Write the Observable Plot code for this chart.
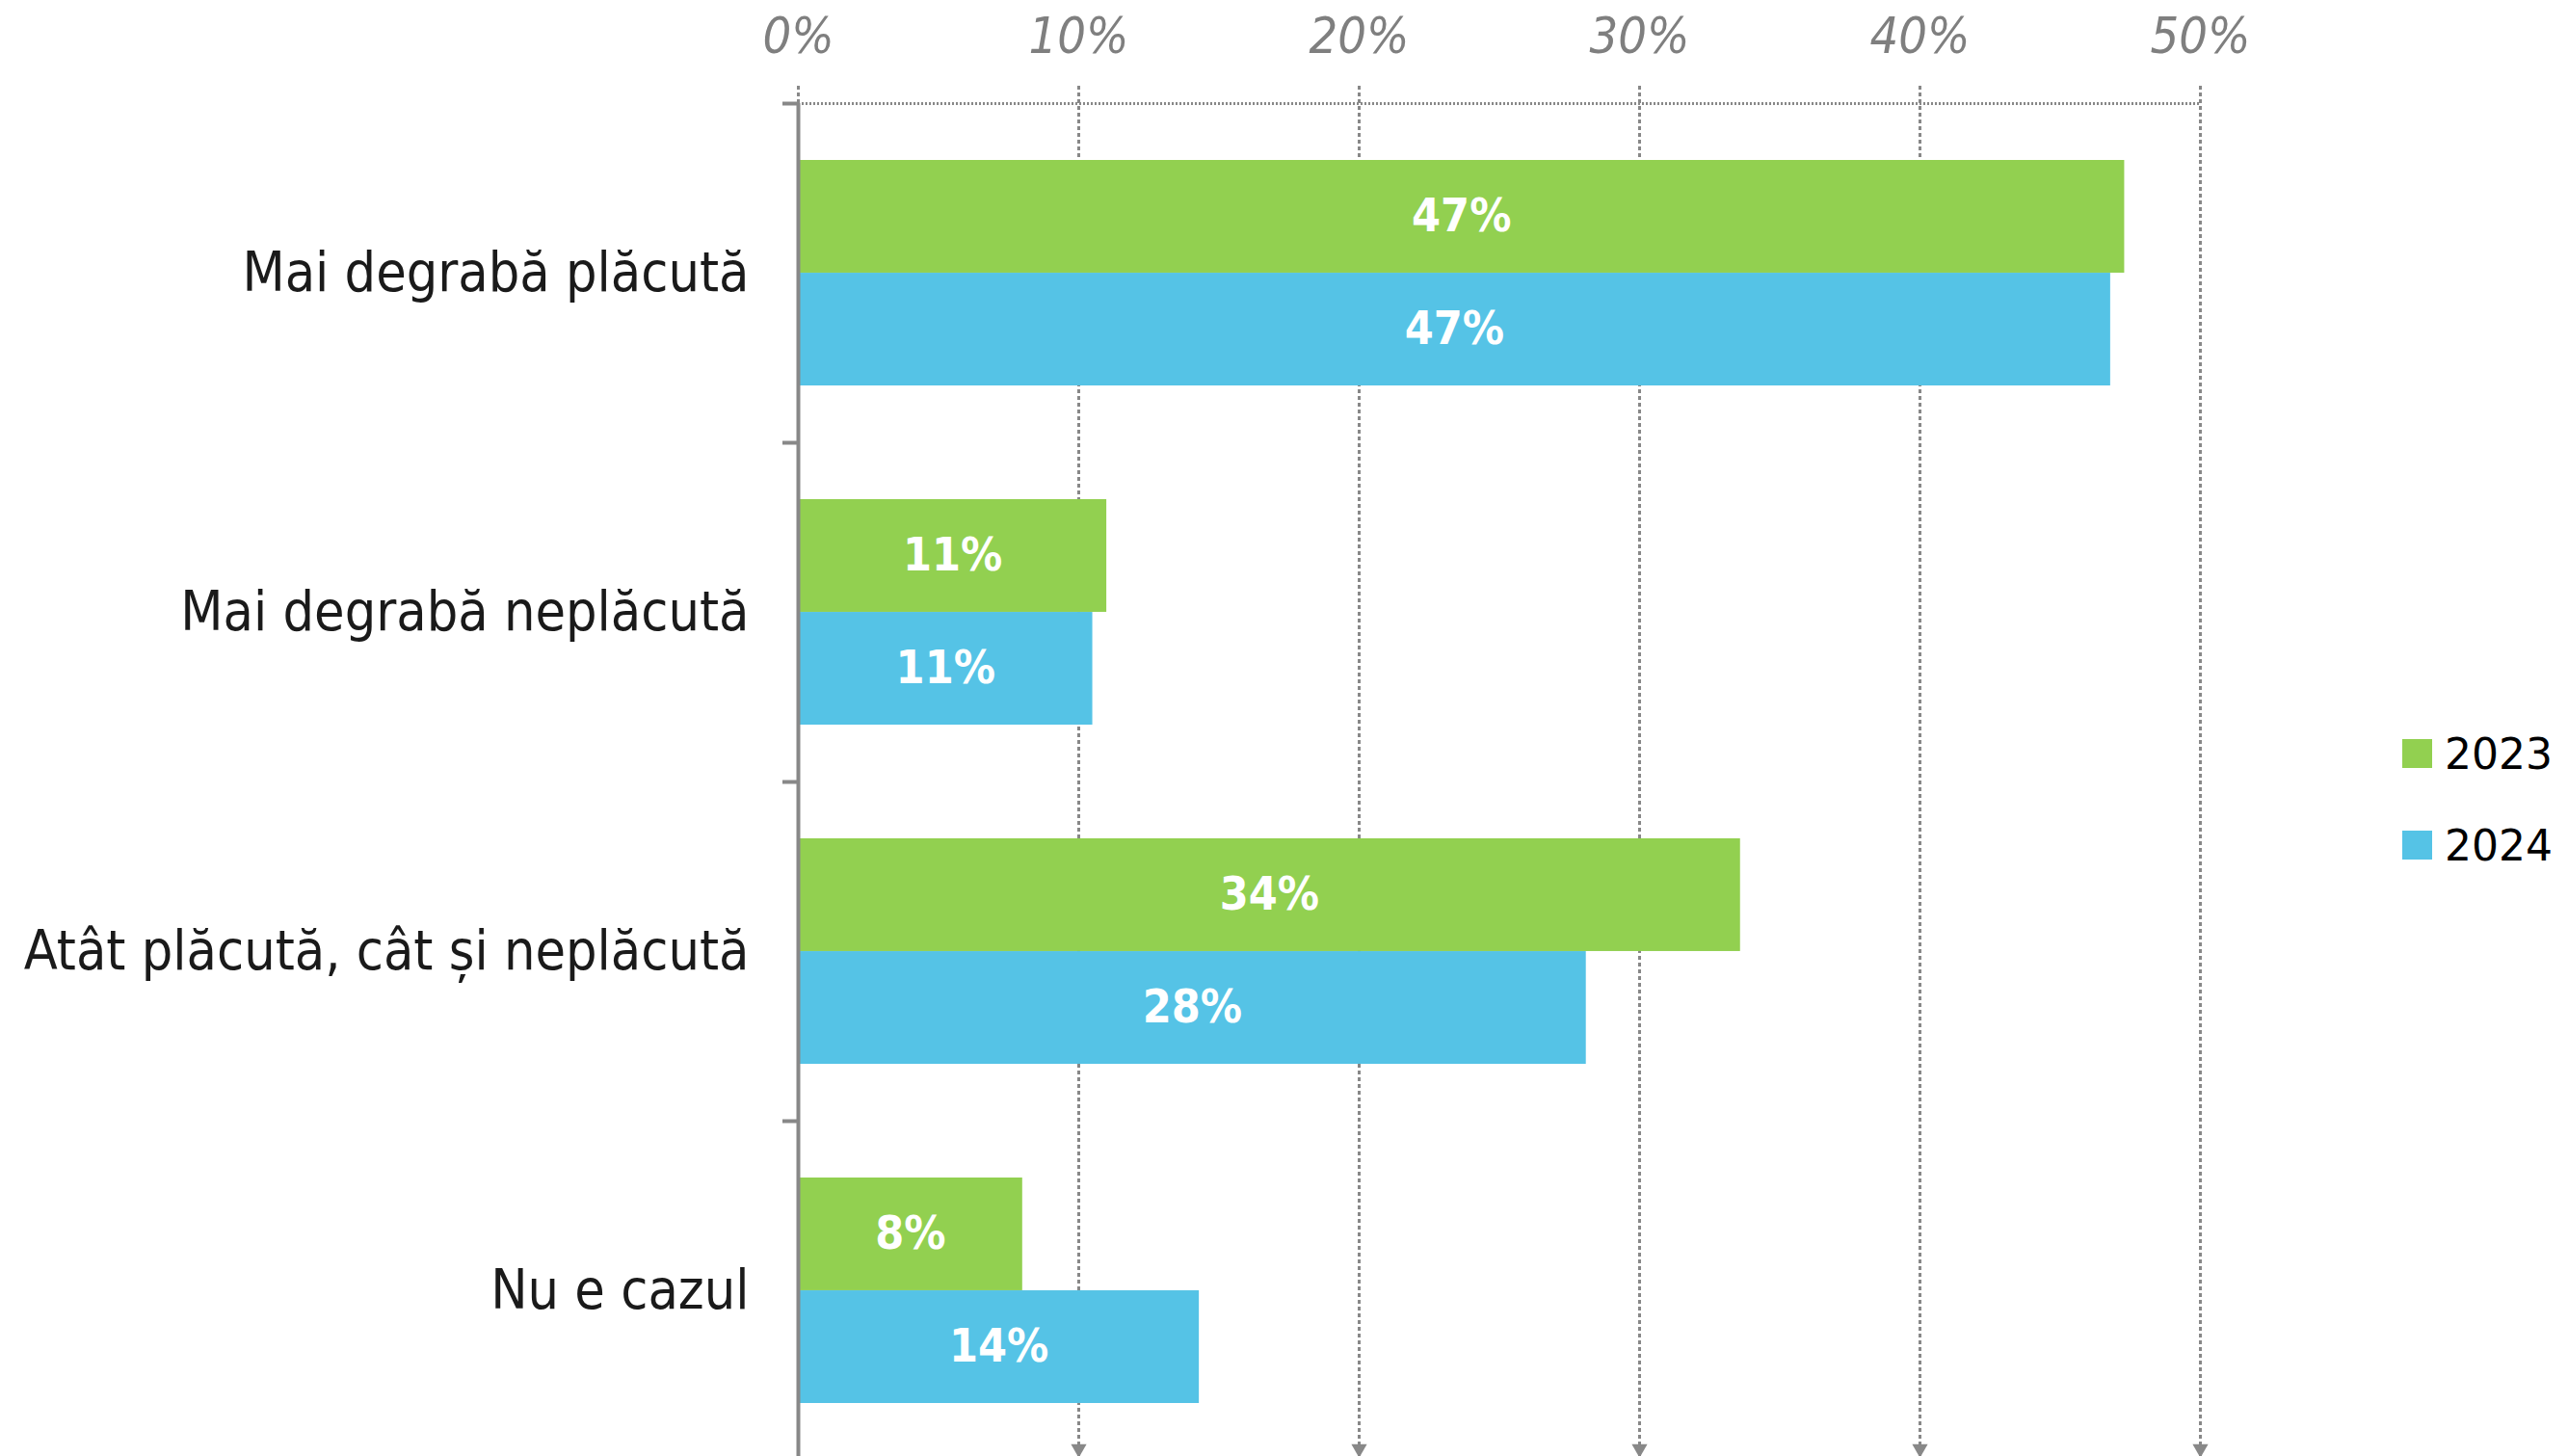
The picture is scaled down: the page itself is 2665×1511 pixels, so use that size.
<!DOCTYPE html>
<html>
<head>
<meta charset="utf-8">
<script src="https://cdn.jsdelivr.net/npm/d3@7"></script>
<script src="https://cdn.jsdelivr.net/npm/@observablehq/plot@0.6"></script>
<style>
  html, body { margin: 0; padding: 0; background: #fff; }
  #wrap { position: relative; width: 2665px; height: 1511px; overflow: hidden; }
  #legend { position: absolute; left: 2493px; top: 758px; font-family: "DejaVu Sans", sans-serif; font-size: 44px; color: #000; }
  #legend .row { display: flex; align-items: center; height: 48px; margin-bottom: 47px; }
  #legend .sw { width: 31px; height: 30px; margin-right: 13px; }
</style>
</head>
<body>
<div id="wrap"><div id="chart"></div><div id="legend"></div></div>
<script>
const categories = ["Mai degrabă plăcută", "Mai degrabă neplăcută", "Atât plăcută, cât și neplăcută", "Nu e cazul"];
const years = ["2023", "2024"];
const values2023 = [47.3, 11.0, 33.6, 8.0];
const values2024 = [46.8, 10.5, 28.1, 14.3];
const labels2023 = ["47%", "11%", "34%", "8%"];
const labels2024 = ["47%", "11%", "28%", "14%"];
const xTicks = [0, 10, 20, 30, 40, 50];
const colors = ["#92D050", "#55C3E6"];

const rows = categories.map((c, i) => ({cat: c, v23: values2023[i], v24: values2024[i], l23: labels2023[i], l24: labels2024[i]}));

const W = 2665, H = 1511, mt = 107, mb = -4, ml = 828, mr = 382;
const pInner = 0.335, pOuter = pInner / 2;
const step = (H - mt - mb) / (categories.length - pInner + 2 * pOuter);
const bw = step * (1 - pInner);
const half = bw / 2;
const grey = "#888888";

const chart = Plot.plot({
  width: W, height: H,
  marginTop: mt, marginBottom: mb, marginLeft: ml, marginRight: mr,
  style: {fontFamily: "'DejaVu Sans Condensed', 'DejaVu Sans', sans-serif", background: "white", overflow: "visible"},
  x: {domain: [0, 50]},
  y: {domain: categories, paddingInner: pInner, paddingOuter: pOuter},
  color: {domain: years, range: colors},
  marks: [
    Plot.ruleX(xTicks, {x: d => d, stroke: grey, strokeWidth: 3, strokeDasharray: "4,3", insetTop: -18}),
    Plot.dot(xTicks.slice(1), {x: d => d, frameAnchor: "bottom", symbol: "triangle", rotate: 180, r: 6, fill: grey, dy: -12}),
    Plot.ruleY([categories[0]], {y: d => d, dy: -step / 2, stroke: grey, strokeWidth: 3, strokeDasharray: "2,2"}),
    Plot.barX(rows, {y: "cat", x1: 0, x2: "v23", fill: () => years[0], insetBottom: half}),
    Plot.barX(rows, {y: "cat", x1: 0, x2: "v24", fill: () => years[1], insetTop: half}),
    Plot.text(rows, {y: "cat", x: d => d.v23 / 2, text: "l23", dy: -half / 2, fill: "white", fontWeight: "bold", fontSize: 48}),
    Plot.text(rows, {y: "cat", x: d => d.v24 / 2, text: "l24", dy: half / 2, fill: "white", fontWeight: "bold", fontSize: 48}),
    Plot.ruleX([0], {x: d => d, stroke: grey, strokeWidth: 4}),
    Plot.ruleY(categories, {y: d => d, x1: 0, x2: 0, insetLeft: -16, dy: -step / 2, stroke: grey, strokeWidth: 4}),
    Plot.axisX({anchor: "top", ticks: xTicks, tickFormat: d => d + "%", tickSize: 0, tickPadding: 53,
      fontSize: 52, fontStyle: "italic", color: "#7f7f7f", label: null}),
    Plot.axisY({anchor: "left", tickSize: 0, tickPadding: 51, fontSize: 57, color: "#1a1a1a", label: null})
  ]
});
document.getElementById("chart").appendChild(chart);

const legend = document.getElementById("legend");
years.forEach((y, i) => {
  const row = document.createElement("div");
  row.className = "row";
  row.innerHTML = `<div class="sw" style="background:${colors[i]}"></div><span>${y}</span>`;
  legend.appendChild(row);
});
</script>
</body>
</html>
